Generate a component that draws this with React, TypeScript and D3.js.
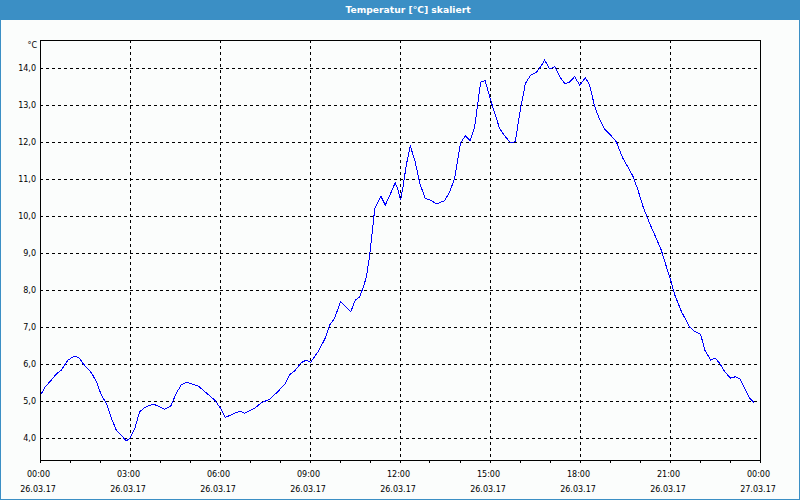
import React from "react";
import * as d3 from "d3";

const hours: number[] = [
  0.0, 0.18, 0.38, 0.54, 0.71, 0.93, 1.16, 1.32, 1.43, 1.71, 1.88, 2.04, 2.21, 2.38, 2.54, 2.77, 2.88, 2.99,
  3.16, 3.32, 3.49, 3.77, 3.93, 4.16, 4.36, 4.54, 4.71, 4.88, 5.27, 5.49, 5.82, 6.0, 6.18, 6.43, 6.66, 6.82,
  7.16, 7.38, 7.66, 7.93, 8.16, 8.32, 8.49, 8.71, 8.88, 9.02, 9.27, 9.49, 9.66, 9.82, 10.02, 10.36, 10.51,
  10.66, 10.8, 10.88, 10.99, 11.07, 11.16, 11.36, 11.51, 11.69, 11.84, 11.92, 12.02, 12.1, 12.21, 12.34,
  12.49, 12.66, 12.84, 13.04, 13.21, 13.49, 13.66, 13.82, 14.02, 14.18, 14.34, 14.49, 14.6, 14.69, 14.84,
  15.02, 15.16, 15.32, 15.49, 15.69, 15.84, 16.02, 16.18, 16.36, 16.54, 16.69, 16.82, 16.99, 17.16, 17.27,
  17.38, 17.51, 17.66, 17.82, 17.99, 18.18, 18.32, 18.49, 18.66, 18.82, 19.04, 19.21, 19.43, 19.6, 19.77,
  19.93, 20.1, 20.32, 20.54, 20.71, 20.88, 21.02, 21.16, 21.38, 21.66, 21.82, 22.02, 22.16, 22.36, 22.51,
  22.66, 22.82, 23.02, 23.18, 23.34, 23.49, 23.66, 23.8,
];

const temps: number[] = [
  5.15, 5.4, 5.58, 5.74, 5.85, 6.12, 6.23, 6.17, 6.03, 5.78, 5.54, 5.18, 4.95, 4.55, 4.23, 4.03, 3.94, 4.0,
  4.27, 4.72, 4.84, 4.93, 4.88, 4.79, 4.88, 5.22, 5.45, 5.52, 5.42, 5.27, 5.04, 4.84, 4.57, 4.66, 4.74, 4.68,
  4.82, 4.97, 5.06, 5.27, 5.47, 5.72, 5.83, 6.05, 6.12, 6.06, 6.35, 6.68, 7.07, 7.25, 7.7, 7.43, 7.74,
  7.83, 8.15, 8.37, 8.96, 9.55, 10.22, 10.55, 10.31, 10.63, 10.91, 10.75, 10.45, 10.8, 11.39, 11.91,
  11.53, 10.9, 10.49, 10.43, 10.34, 10.43, 10.67, 11.03, 11.99, 12.18, 12.05, 12.43, 13.1, 13.63, 13.67,
  13.15, 12.79, 12.38, 12.18, 11.99, 12.02, 12.92, 13.6, 13.82, 13.89, 14.05, 14.23, 13.99, 14.05, 13.87,
  13.71, 13.58, 13.64, 13.78, 13.55, 13.75, 13.55, 12.97, 12.61, 12.36, 12.18, 12.02, 11.57, 11.33, 11.08,
  10.72, 10.27, 9.82, 9.41, 9.09, 8.64, 8.28, 7.88, 7.43, 7.01, 6.89, 6.82, 6.39, 6.12, 6.17,
  6.03, 5.81, 5.63, 5.67, 5.6, 5.36, 5.09, 4.97,
];

const yTicks: number[] = [4, 5, 6, 7, 8, 9, 10, 11, 12, 13, 14];
const xMajorHours: number[] = [0, 3, 6, 9, 12, 15, 18, 21, 24];
const xTimeLabels: string[] = ["00:00", "03:00", "06:00", "09:00", "12:00", "15:00", "18:00", "21:00", "00:00"];
const xDateLabels: string[] = ["26.03.17", "26.03.17", "26.03.17", "26.03.17", "26.03.17", "26.03.17", "26.03.17", "26.03.17", "27.03.17"];
const title = "Temperatur [°C] skaliert";
const unit = "°C";

const W = 800;
const H = 500;
const L = 40, R = 760, T = 40, B = 460;

export default function App() {
  const x = d3.scaleLinear().domain([0, 24]).range([L, R]);
  const y = d3.scaleLinear().domain([14 - (B - 68.5) / 37, 14 + (68.5 - T) / 37]).range([B, T]);
  const line = d3
    .line<number>()
    .x((_, i) => x(hours[i]))
    .y((d) => y(d));
  const minor = d3.range(0, 25, 1);
  const font = "'DejaVu Sans', Verdana, sans-serif";
  const ry = (v: number) => Math.floor(y(v)) + 0.5;
  const rx = (v: number) => Math.floor(x(v)) + 0.5;

  return (
    <div style={{ position: "fixed", left: 0, top: 0 }}>
      <svg width={W} height={H} style={{ display: "block" }}>
        <rect x={0} y={0} width={W} height={H} fill="#fbfdfc" />
        <rect x={0} y={0} width={W} height={20} fill="#3b8fc5" />
        <rect x={0.5} y={0.5} width={W - 1} height={H - 1} fill="none" stroke="#3b8fc5" />
        <text x={408} y={12.5} textAnchor="middle" fill="#ffffff" fontFamily={font} fontWeight="bold" fontSize={9.2}>
          {title}
        </text>

        {yTicks.map((v) => (
          <line key={"gy" + v} x1={L} x2={R} y1={ry(v)} y2={ry(v)} stroke="#000" strokeDasharray="3,3" shapeRendering="crispEdges" />
        ))}
        {xMajorHours.slice(1, -1).map((h) => (
          <line key={"gx" + h} x1={rx(h)} x2={rx(h)} y1={T} y2={B} stroke="#000" strokeDasharray="3,3" shapeRendering="crispEdges" />
        ))}

        <path d={line(temps) || ""} fill="none" stroke="#0000ff" strokeWidth={1} shapeRendering="crispEdges" />

        <rect x={L + 0.5} y={T + 0.5} width={R - L} height={B - T} fill="none" stroke="#000" shapeRendering="crispEdges" />

        {minor.map((h) => (
          <line key={"tk" + h} x1={rx(h)} x2={rx(h)} y1={B} y2={B + 3} stroke="#000" shapeRendering="crispEdges" />
        ))}

        {yTicks.map((v) => (
          <text key={"ly" + v} x={36} y={y(v)} dy="0.35em" textAnchor="end" fontFamily={font} fontSize={8} fill="#000">
            {v.toFixed(1).replace(".", ",")}
          </text>
        ))}
        <text x={37} y={45} dy="0.35em" textAnchor="end" fontFamily={font} fontSize={8} fill="#000">
          {unit}
        </text>

        {xMajorHours.map((h, i) => (
          <g key={"lx" + i}>
            <text x={x(h) - 1.5} y={476.5} textAnchor="middle" fontFamily={font} fontSize={8} fill="#000">
              {xTimeLabels[i]}
            </text>
            <text x={x(h) - 2} y={491.5} textAnchor="middle" fontFamily={font} fontSize={8} fill="#000">
              {xDateLabels[i]}
            </text>
          </g>
        ))}
      </svg>
    </div>
  );
}
